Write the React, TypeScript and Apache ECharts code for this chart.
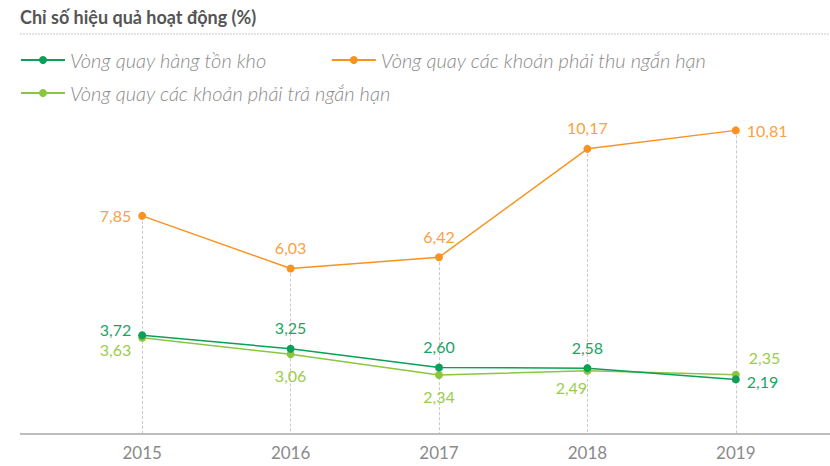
import React, { useEffect, useRef } from "react";
import * as echarts from "echarts";

const categories = ["2015", "2016", "2017", "2018", "2019"];
const seriesNames = [
  "Vòng quay hàng tồn kho",
  "Vòng quay các khoản phải thu ngắn hạn",
  "Vòng quay các khoản phải trả ngắn hạn",
];
const inventoryTurnover = [3.72, 3.25, 2.6, 2.58, 2.19];
const receivablesTurnover = [7.85, 6.03, 6.42, 10.17, 10.81];
const payablesTurnover = [3.63, 3.06, 2.34, 2.49, 2.35];

const colors = ["#0b9f57", "#f7931e", "#8cc63f"];
const labelColors = ["#1aa463", "#f7a243", "#9acd4c"];

const Y_MIN = 0.3;
const Y_MAX = 12;

const fmt = (v: number) => v.toFixed(2).replace(".", ",");

type LabelCfg = { position: any; offset?: number[] };

const invLabels: LabelCfg[] = [
  { position: "left", offset: [-2, -6] },
  { position: "top", offset: [0, -4] },
  { position: "top", offset: [0, -4] },
  { position: "top", offset: [0, -4] },
  { position: "right", offset: [2, 2] },
];
const recLabels: LabelCfg[] = [
  { position: "left", offset: [-2, 0] },
  { position: "top", offset: [0, -4] },
  { position: "top", offset: [0, -4] },
  { position: "top", offset: [0, -4] },
  { position: "right", offset: [2, 0] },
];
const payLabels: LabelCfg[] = [
  { position: "left", offset: [-2, 12] },
  { position: "bottom", offset: [0, 4] },
  { position: "bottom", offset: [0, 4] },
  { position: "bottom", offset: [-16, 0] },
  { position: "right", offset: [4, -17] },
];

function buildData(values: number[], cfg: LabelCfg[], color: string) {
  return values.map((v, i) => ({
    value: v,
    label: {
      show: true,
      position: cfg[i].position,
      offset: cfg[i].offset,
      color,
      fontSize: 16,
      fontFamily: "Lato",
      formatter: (p: any) => fmt(p.value),
    },
  }));
}

const legendText = { fontFamily: "Lato", fontStyle: "italic", fontSize: 20, color: "#8a8a8a", fontWeight: 300 };

export default function App() {
  const ref = useRef<HTMLDivElement>(null);
  useEffect(() => {
    if (!ref.current) return;
    const chart = echarts.init(ref.current, null, { renderer: "svg" });
    const lineSeries = (name: string, data: any[], idx: number, extra: any = {}) => ({
      name,
      type: "line",
      data,
      symbol: "circle",
      symbolSize: 8,
      lineStyle: { color: colors[idx], width: 1.5 },
      itemStyle: { color: colors[idx] },
      z: 3 + idx,
      ...extra,
    });
    chart.setOption({
      animation: false,
      textStyle: { fontFamily: "Lato" },
      title: {
        text: "Chỉ số hiệu quả hoạt động (%)",
        left: 15,
        top: 3,
        textStyle: { fontFamily: "Lato", fontWeight: "bold", fontSize: 18, color: "#555555" },
      },
      legend: [
        {
          data: [seriesNames[0], seriesNames[1]],
          left: 15,
          top: 45,
          itemWidth: 44,
          itemHeight: 10,
          itemGap: 64,
          textStyle: legendText,
        },
        {
          data: [seriesNames[2]],
          left: 15,
          top: 78,
          itemWidth: 44,
          itemHeight: 10,
          textStyle: legendText,
        },
      ],
      graphic: [
        {
          type: "line",
          shape: { x1: 20, y1: 34, x2: 830, y2: 34 },
          style: { stroke: "#c8c8c8", lineWidth: 1, lineDash: [2, 1] },
        },
        {
          type: "line",
          shape: { x1: 20, y1: 434, x2: 830, y2: 434 },
          style: { stroke: "#bdbdbd", lineWidth: 2 },
          z: 10,
        },
      ],
      grid: { left: 68, right: 20, top: 96, bottom: 32 },
      xAxis: {
        type: "category",
        data: categories,
        axisLine: { show: false },
        axisTick: { show: false },
        axisLabel: { color: "#8a8a8a", fontSize: 17, fontFamily: "Lato", margin: 10 },
        splitLine: { show: false },
      },
      yAxis: {
        type: "value",
        min: Y_MIN,
        max: Y_MAX,
        show: false,
        splitLine: { show: false },
      },
      series: [
        lineSeries(seriesNames[0], buildData(inventoryTurnover, invLabels, labelColors[0]), 0),
        lineSeries(seriesNames[1], buildData(receivablesTurnover, recLabels, labelColors[1]), 1, {
          markLine: {
            silent: true,
            symbol: "none",
            label: { show: false },
            lineStyle: { color: "#c9c9c9", type: [3, 2], width: 1 },
            z: 1,
            data: categories.map((c, i) => [
              { coord: [c, Math.max(receivablesTurnover[i], inventoryTurnover[i], payablesTurnover[i])] },
              { coord: [c, Y_MIN] },
            ]),
          },
        }),
        lineSeries(seriesNames[2], buildData(payablesTurnover, payLabels, labelColors[2]), 2, { z: 2 }),
      ],
    });
    return () => chart.dispose();
  }, []);
  return (
    <div
      ref={ref}
      style={{ position: "absolute", left: 0, top: 0, width: 830, height: 466 }}
    />
  );
}
